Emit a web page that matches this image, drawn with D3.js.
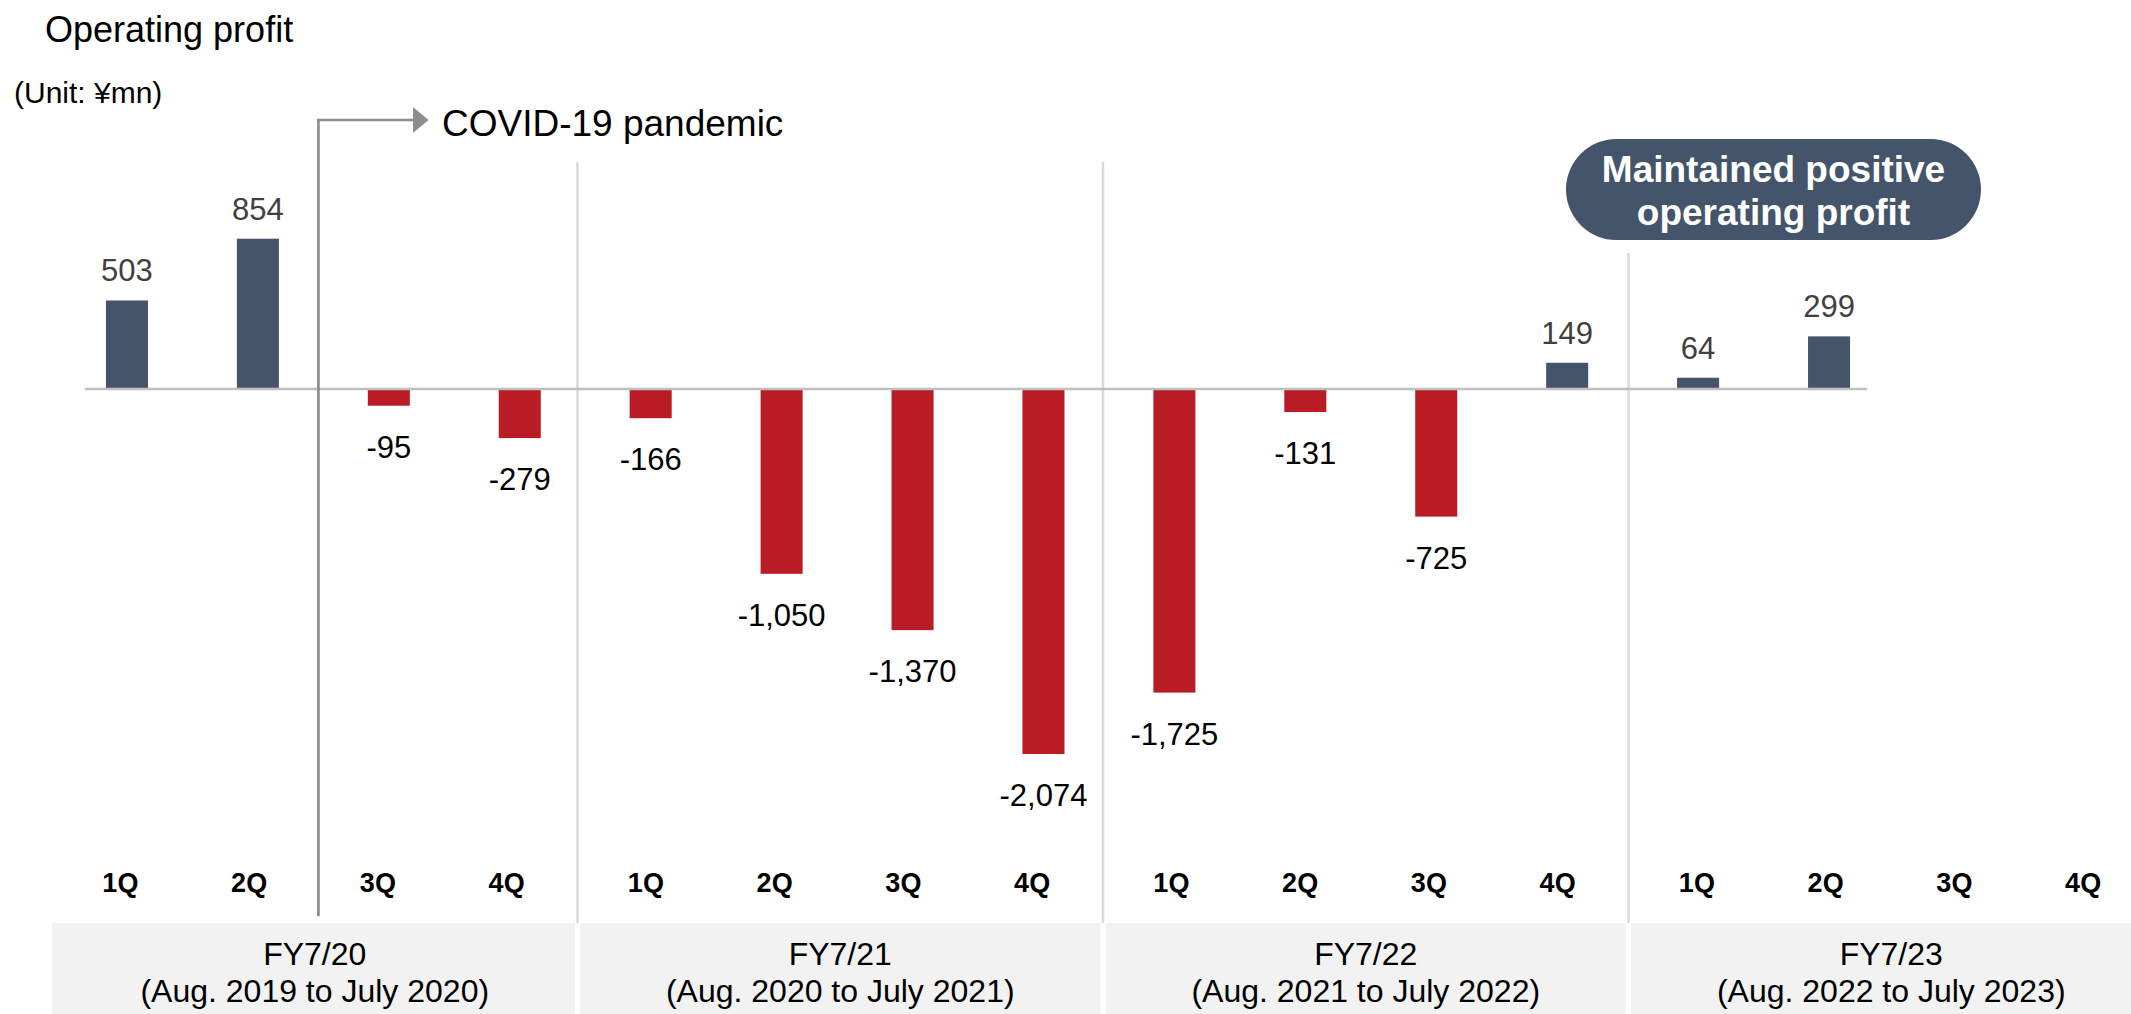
<!DOCTYPE html>
<html>
<head>
<meta charset="utf-8">
<script src="https://cdn.jsdelivr.net/npm/d3@7"></script>
<style>
  html, body { margin: 0; padding: 0; background: #fff; }
  svg { display: block; font-family: "Liberation Sans", Arial, sans-serif; }
</style>
</head>
<body>
<svg id="chart" width="2131" height="1014"></svg>
<script>
// ---------- data ----------
const fiscalYears = ["FY7/20", "FY7/21", "FY7/22", "FY7/23"];
const fiscalPeriods = ["(Aug. 2019 to July 2020)", "(Aug. 2020 to July 2021)", "(Aug. 2021 to July 2022)", "(Aug. 2022 to July 2023)"];
const quarters = ["1Q", "2Q", "3Q", "4Q"];
const barCategories = [
  "FY7/20 1Q", "FY7/20 2Q", "FY7/20 3Q", "FY7/20 4Q",
  "FY7/21 1Q", "FY7/21 2Q", "FY7/21 3Q", "FY7/21 4Q",
  "FY7/22 1Q", "FY7/22 2Q", "FY7/22 3Q", "FY7/22 4Q",
  "FY7/23 1Q", "FY7/23 2Q"
];
const profitValues = [503, 854, -95, -279, -166, -1050, -1370, -2074, -1725, -131, -725, 149, 64, 299];
const titleText = "Operating profit";
const unitText = "(Unit: \u00a5mn)";
const covidText = "COVID-19 pandemic";
const badgeLines = ["Maintained positive", "operating profit"];

// ---------- styles ----------
const NAVY = "#44546A", RED = "#B91C24";
const svg = d3.select("#chart");
const fmt = d3.formatLocale({decimal: ".", thousands: ",", grouping: [3], currency: ["", ""], minus: "-"}).format(",");

// ---------- scales ----------
const x = d3.scaleBand().domain(barCategories).range([61.5, 1894.5]).paddingInner(0.679).paddingOuter(0.3395);
const y = d3.scaleLinear().domain([-2200, 1000]).range([389 + 2200 * 0.176, 389 - 1000 * 0.176]);
const fy = d3.scaleBand().domain(fiscalYears).range([52, 2154]);
const q = d3.scalePoint().domain(quarters).range([4, 519]).padding(0.5);

// ---------- FY boxes (table) ----------
const tableTop = 923;
const g = svg.append("g");
g.selectAll("rect.fy").data(fiscalYears).join("rect")
  .attr("class", "fy")
  .attr("x", d => fy(d) + (d === fiscalYears[0] ? 0 : 2.5))
  .attr("y", tableTop)
  .attr("width", d => fy.bandwidth() - (d === fiscalYears[0] ? 2.5 : 5))
  .attr("height", 1014 - tableTop)
  .attr("fill", "#f2f2f2");

g.selectAll("text.fy1").data(fiscalYears).join("text")
  .attr("x", d => fy(d) + fy.bandwidth() / 2)
  .attr("y", 965)
  .attr("text-anchor", "middle")
  .attr("font-size", 32)
  .attr("fill", "#000")
  .text(d => d);
g.selectAll("text.fy2").data(fiscalPeriods).join("text")
  .attr("x", (d, i) => fy(fiscalYears[i]) + fy.bandwidth() / 2)
  .attr("y", 1002)
  .attr("text-anchor", "middle")
  .attr("font-size", 32)
  .attr("fill", "#000")
  .text(d => d);

// quarter labels
fiscalYears.forEach(f => {
  g.selectAll(null).data(quarters).join("text")
    .attr("x", d => fy(f) + q(d))
    .attr("y", 892)
    .attr("text-anchor", "middle")
    .attr("font-size", 27)
    .attr("font-weight", "bold")
    .attr("fill", "#000")
    .text(d => d);
});

// separators between fiscal years
g.selectAll("line.sep").data(fiscalYears.slice(1)).join("line")
  .attr("x1", d => fy(d)).attr("x2", d => fy(d))
  .attr("y1", (d, i) => i === 2 ? 253 : 162)
  .attr("y2", tableTop)
  .attr("stroke", "#d9d9d9").attr("stroke-width", 2.5);

// ---------- bars ----------
const data = barCategories.map((c, i) => ({c, v: profitValues[i]}));
svg.append("g").selectAll("rect").data(data).join("rect")
  .attr("x", d => x(d.c))
  .attr("width", x.bandwidth())
  .attr("y", d => Math.min(y(d.v), y(0)))
  .attr("height", d => Math.abs(y(d.v) - y(0)))
  .attr("fill", d => d.v >= 0 ? NAVY : RED);

// zero line
svg.append("line")
  .attr("x1", x.range()[0] + 23.5).attr("x2", x.range()[1] - 27.5)
  .attr("y1", y(0)).attr("y2", y(0))
  .attr("stroke", "#bfbfbf").attr("stroke-width", 2.5);

// value labels
svg.append("g").selectAll("text").data(data).join("text")
  .attr("x", d => x(d.c) + x.bandwidth() / 2)
  .attr("y", d => d.v >= 0 ? y(d.v) - 19 : y(d.v) + 52)
  .attr("text-anchor", "middle")
  .attr("font-size", 31)
  .attr("fill", d => d.v >= 0 ? "#404040" : "#000")
  .text(d => fmt(d.v));

// ---------- annotations ----------
svg.append("text").attr("x", 45).attr("y", 42).attr("font-size", 36).attr("fill", "#000").text(titleText);
svg.append("text").attr("x", 14).attr("y", 103).attr("font-size", 30).attr("fill", "#000").text(unitText);

// COVID marker line between FY7/20 2Q and 3Q
const covidX = ((x("FY7/20 2Q") + x("FY7/20 3Q") + x.bandwidth()) / 2 + fy("FY7/20") + (q("2Q") + q("3Q")) / 2) / 2;
const arrowY = 120;
svg.append("path")
  .attr("d", `M${covidX},916 L${covidX},${arrowY} L414,${arrowY}`)
  .attr("fill", "none").attr("stroke", "#8c8c8c").attr("stroke-width", 2.7);
svg.append("path")
  .attr("d", `M413,107 L428.5,${arrowY} L413,133 Z`)
  .attr("fill", "#8c8c8c");
svg.append("text").attr("x", 442).attr("y", 136).attr("font-size", 37).attr("fill", "#000").text(covidText);

// badge
const bx = 1566, by = 139, bw = 415, bh = 101;
svg.append("rect").attr("x", bx).attr("y", by).attr("width", bw).attr("height", bh)
  .attr("rx", bh / 2).attr("ry", bh / 2).attr("fill", NAVY);
svg.append("g").selectAll("text").data(badgeLines).join("text")
  .attr("x", bx + bw / 2)
  .attr("y", (d, i) => 182 + i * 43)
  .attr("text-anchor", "middle")
  .attr("font-size", 37)
  .attr("font-weight", "bold")
  .attr("fill", "#fff")
  .text(d => d);
</script>
</body>
</html>
